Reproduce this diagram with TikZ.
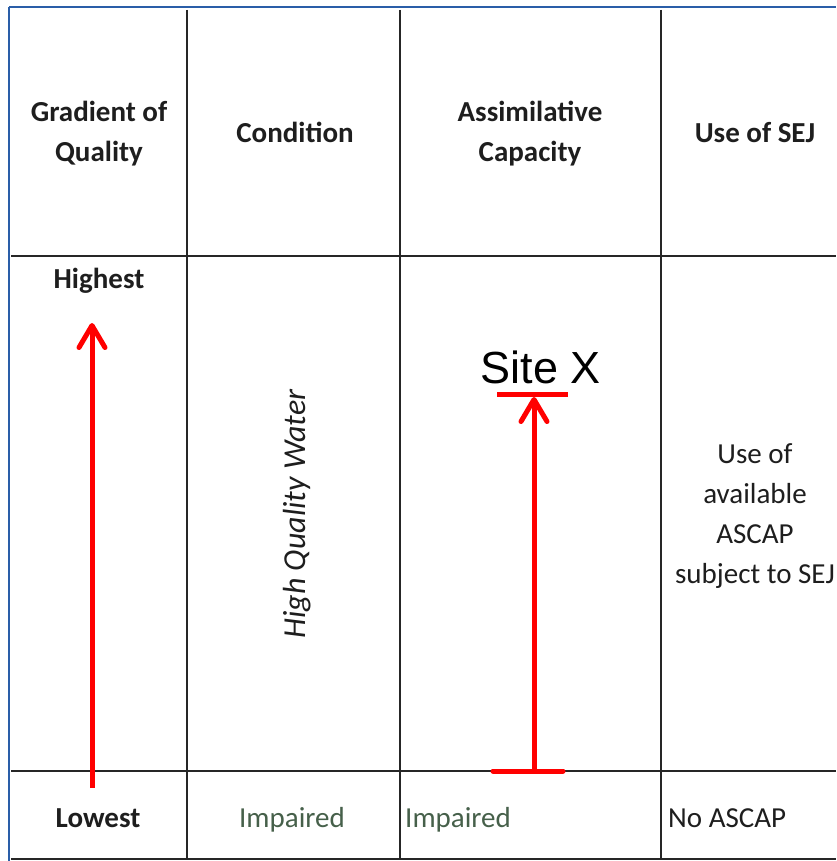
\documentclass[tikz,border=0pt]{standalone}
\usepackage{fontspec}
\setmainfont{Carlito}
\newfontfamily\arialfont{Liberation Sans}
\usetikzlibrary{arrows.meta}
\definecolor{frameblue}{HTML}{2A5EA8}
\definecolor{gridline}{HTML}{262626}
\definecolor{textdark}{HTML}{1E1E1E}
\definecolor{impaired}{HTML}{46604A}
\definecolor{arrowred}{HTML}{FF0000}
\begin{document}
\begin{tikzpicture}[x=1pt,y=-1pt,
  grid/.style={draw=gridline,line width=2.2pt},
  frame/.style={draw=frameblue,line width=2.6pt},
  head/.style={font=\fontsize{29}{40}\selectfont\bfseries,text=textdark,inner sep=0pt,anchor=base},
  body/.style={font=\fontsize{29}{40}\selectfont,text=textdark,inner sep=0pt,anchor=base},
  redline/.style={draw=arrowred,line width=5pt},
  barb/.tip={Straight Barb[length=22pt,width=26pt,line cap=round,line join=round]}
]
\useasboundingbox (0,0) rectangle (836,861);
\fill[white] (0,0) rectangle (836,861);

% outer frame
\draw[frame] (9,7) -- (836,7);
\draw[frame] (9,7) -- (9,861);

% table grid
\draw[grid] (11,256) -- (836,256);
\draw[grid] (11,771) -- (836,771);
\draw[grid] (11,859) -- (836,859);
\foreach \cx in {187,400,661}
  \draw[grid] (\cx,10) -- (\cx,860);

% header row
\node[head] (hgrad1) at (99,122) {Gradient of};
\node[head] (hgrad2) at (99,162) {Quality};
\node[head] (hcond) at (295,143) {Condition};
\node[head] (hassim1) at (530,122) {Assimilative};
\node[head] (hassim2) at (530,162) {Capacity};
\node[head] (hsej) at (755,143) {Use of SEJ};

% body row
\node[head] (highest) at (99,288) {Highest};
\node[body,font=\fontsize{32}{40}\selectfont\itshape,rotate=90] (hqw) at (305,514) {High Quality Water};
\node[body] (use1) at (755,463) {Use of};
\node[body] (use2) at (755,503) {available};
\node[body] (use3) at (755,543) {ASCAP};
\node[body] (use4) at (755,583) {subject to SEJ};
\node[inner sep=0pt,anchor=base,font=\arialfont\fontsize{45}{50}\selectfont] (sitex) at (541,383) {Site X};

% bottom row
\node[head] (lowest) at (98,827) {Lowest};
\node[body,text=impaired] (imp1) at (292,827) {Impaired};
\node[body,text=impaired,anchor=base west] (imp2) at (405,827) {Impaired};
\node[body,anchor=base west] (noascap) at (668,827) {No ASCAP};

% gradient arrow
\coordinate (gradlow) at (92,788);
\coordinate (gradhigh) at (92,323);
\draw[redline,-{barb}] (gradlow) -- (gradhigh);

% assimilative capacity range
\coordinate (caplow) at (534,771);
\coordinate (caphigh) at (534,397);
\coordinate (barlowl) at (493,771);
\coordinate (barlowr) at (563,771);
\coordinate (barhighl) at (497,394);
\coordinate (barhighr) at (568,394);
\draw[redline,-{barb}] (caplow) -- (caphigh);
\draw[redline,line cap=round] (barlowl) -- (barlowr);
\draw[redline] (barhighl) -- (barhighr);
\end{tikzpicture}
\end{document}
